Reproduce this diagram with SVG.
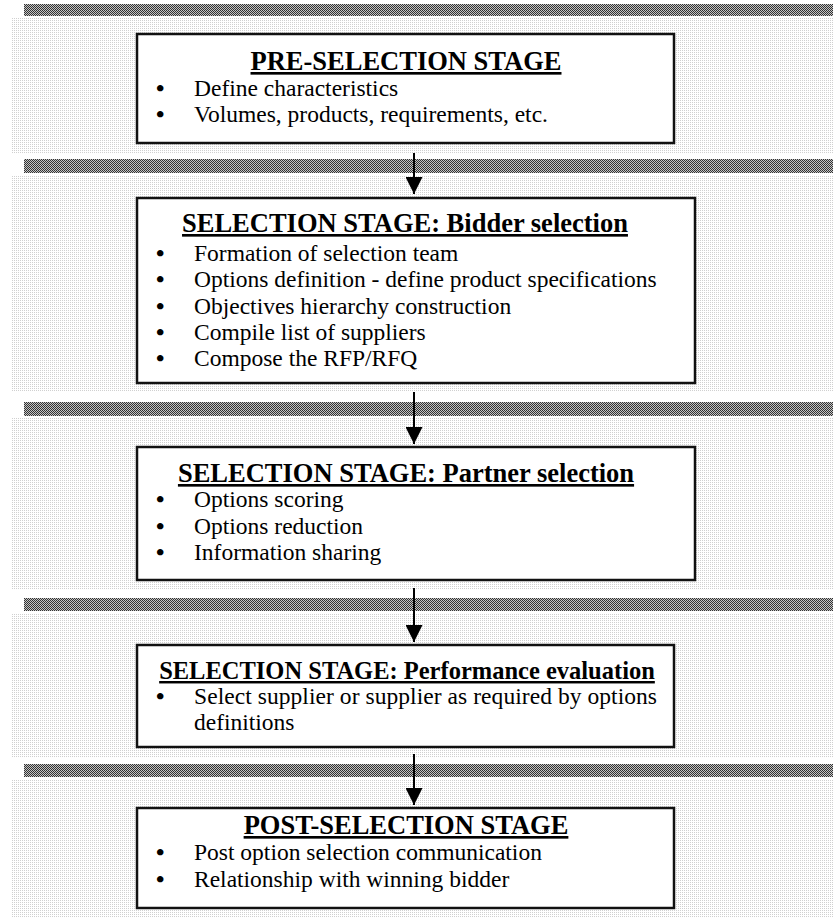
<svg xmlns="http://www.w3.org/2000/svg" width="833" height="917" viewBox="0 0 833 917">
  <defs>
    <pattern id="dots" patternUnits="userSpaceOnUse" width="2" height="2">
      <rect width="2" height="2" fill="#ffffff"/>
      <rect x="0" y="0" width="1" height="1" fill="#d0d0d0"/>
    </pattern>
    <pattern id="hatch" patternUnits="userSpaceOnUse" width="2" height="2">
      <rect width="2" height="2" fill="#c4c4c4"/>
      <rect x="0" y="0" width="1" height="1" fill="#333333"/>
      <rect x="1" y="1" width="1" height="1" fill="#333333"/>
    </pattern>
    <marker id="head" markerWidth="18" markerHeight="17" refX="17" refY="8.5" orient="auto" markerUnits="userSpaceOnUse">
      <path d="M0,0 L17,8.5 L0,17 Z" fill="#000"/>
    </marker>
  </defs>
  <style>
    .band { fill: url(#hatch); shape-rendering: crispEdges; }
    .field { fill: url(#dots); shape-rendering: crispEdges; }
    .box { fill: #ffffff; stroke: #111111; stroke-width: 2.5; }
    .title { font-family: "Liberation Serif", "Times New Roman", serif; font-size: 26.5px; font-weight: bold; text-decoration: underline; text-anchor: middle; fill: #000; }
    .item { font-family: "Liberation Serif", "Times New Roman", serif; font-size: 23.5px; fill: #000; }
    .bullet { font-family: "Liberation Serif", "Times New Roman", serif; font-size: 24px; font-weight: bold; fill: #000; }
    .conn { stroke: #000; stroke-width: 2; fill: none; marker-end: url(#head); }
  </style>

  <rect width="833" height="917" fill="#ffffff"/>

  <!-- stage backgrounds -->
  <rect class="field" x="11" y="17" width="822" height="137"/>
  <rect class="field" x="11" y="175" width="822" height="216"/>
  <rect class="field" x="11" y="418" width="822" height="172"/>
  <rect class="field" x="11" y="613" width="822" height="144"/>
  <rect class="field" x="11" y="779" width="822" height="138"/>

  <!-- stage separators -->
  <rect class="band" x="24" y="4" width="809" height="12"/>
  <rect class="band" x="24" y="159" width="809" height="14"/>
  <rect class="band" x="24" y="402" width="809" height="14"/>
  <rect class="band" x="24" y="598" width="809" height="13"/>
  <rect class="band" x="24" y="764" width="809" height="13"/>

  <g id="connectors">
    <line class="conn" x1="414" y1="153" x2="414" y2="194"/>
    <line class="conn" x1="414" y1="392" x2="414" y2="444"/>
    <line class="conn" x1="414" y1="588" x2="414" y2="642"/>
    <line class="conn" x1="414" y1="754" x2="414" y2="805"/>
  </g>

  <g id="pre-selection">
    <rect class="box" x="137" y="34" width="537" height="109"/>
    <text class="title" x="406" y="70">PRE-SELECTION STAGE</text>
    <text class="bullet" x="156" y="96">•</text>
    <text class="item" x="194" y="96">Define characteristics</text>
    <text class="bullet" x="156" y="122">•</text>
    <text class="item" x="194" y="122">Volumes, products, requirements, etc.</text>
  </g>

  <g id="bidder-selection">
    <rect class="box" x="137" y="198" width="558" height="185"/>
    <text class="title" x="405" y="232">SELECTION STAGE: Bidder selection</text>
    <text class="bullet" x="156" y="261">•</text>
    <text class="item" x="194" y="261">Formation of selection team</text>
    <text class="bullet" x="156" y="287">•</text>
    <text class="item" x="194" y="287">Options definition - define product specifications</text>
    <text class="bullet" x="156" y="314">•</text>
    <text class="item" x="194" y="314">Objectives hierarchy construction</text>
    <text class="bullet" x="156" y="340">•</text>
    <text class="item" x="194" y="340">Compile list of suppliers</text>
    <text class="bullet" x="156" y="366">•</text>
    <text class="item" x="194" y="366">Compose the RFP/RFQ</text>
  </g>

  <g id="partner-selection">
    <rect class="box" x="137" y="447" width="558" height="133"/>
    <text class="title" x="406" y="482">SELECTION STAGE: Partner selection</text>
    <text class="bullet" x="156" y="507">•</text>
    <text class="item" x="194" y="507">Options scoring</text>
    <text class="bullet" x="156" y="534">•</text>
    <text class="item" x="194" y="534">Options reduction</text>
    <text class="bullet" x="156" y="560">•</text>
    <text class="item" x="194" y="560">Information sharing</text>
  </g>

  <g id="performance-evaluation">
    <rect class="box" x="137" y="645" width="537" height="102"/>
    <text class="title" x="407" y="679" style="font-size:24.5px">SELECTION STAGE: Performance evaluation</text>
    <text class="bullet" x="156" y="704">•</text>
    <text class="item" x="194" y="704" textLength="463" lengthAdjust="spacing">Select supplier or supplier as required by options</text>
    <text class="item" x="194" y="730">definitions</text>
  </g>

  <g id="post-selection">
    <rect class="box" x="137" y="808" width="537" height="100"/>
    <text class="title" x="406" y="834">POST-SELECTION STAGE</text>
    <text class="bullet" x="156" y="860">•</text>
    <text class="item" x="194" y="860">Post option selection communication</text>
    <text class="bullet" x="156" y="887">•</text>
    <text class="item" x="194" y="887">Relationship with winning bidder</text>
  </g>
</svg>
